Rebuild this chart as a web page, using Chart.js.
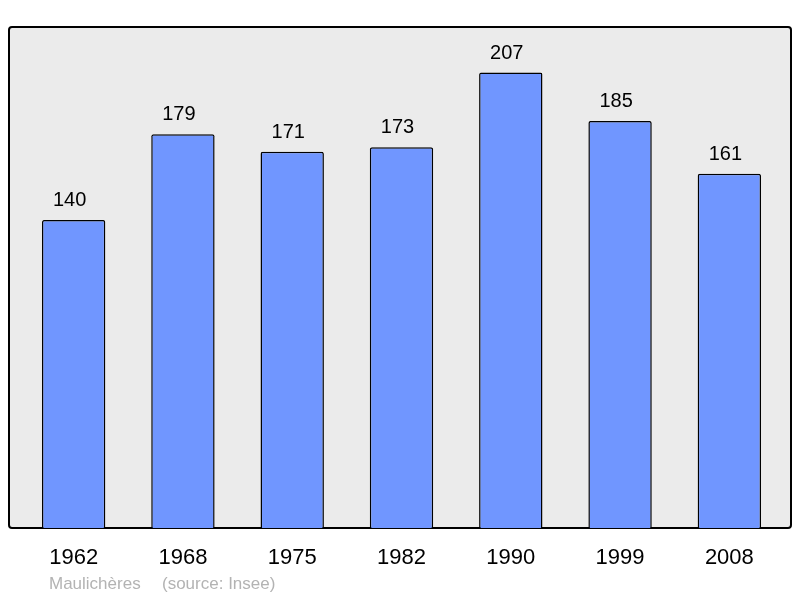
<!DOCTYPE html>
<html>
<head>
<meta charset="utf-8">
<script src="https://cdn.jsdelivr.net/npm/chart.js@4"></script>
<style>
  html, body { margin: 0; padding: 0; background: #fff; }
  #wrap { width: 800px; height: 598px; }
</style>
</head>
<body>
<div id="wrap"><canvas id="popChart" width="800" height="598"></canvas></div>
<script>
const years = ['1962', '1968', '1975', '1982', '1990', '1999', '2008'];
const population = [140, 179, 171, 173, 207, 185, 161];
const placeName = 'Maulichères';
const sourceNote = '(source: Insee)';

// gray framed plot background, value labels and footer
const frame = {
  id: 'frame',
  beforeDraw(chart) {
    const { ctx, chartArea: a } = chart;
    const x = a.left - 10, y = a.top, w = (a.right + 7) - x, h = a.bottom - a.top;
    ctx.save();
    ctx.beginPath();
    ctx.roundRect(x, y, w, h, 3);
    ctx.fillStyle = '#ebebeb';
    ctx.fill();
    ctx.lineWidth = 2;
    ctx.strokeStyle = '#000';
    ctx.stroke();
    ctx.restore();
  },
  afterDraw(chart) {
    const { ctx } = chart;
    ctx.save();
    ctx.font = '20px "Liberation Sans", Arial, sans-serif';
    ctx.fillStyle = '#000';
    ctx.textAlign = 'center';
    ctx.textBaseline = 'alphabetic';
    chart.getDatasetMeta(0).data.forEach((bar, i) => {
      ctx.fillText(String(population[i]), bar.x - 4, bar.y - 14);
    });
    ctx.font = '17px "Liberation Sans", Arial, sans-serif';
    ctx.fillStyle = '#b3b3b3';
    ctx.textAlign = 'left';
    ctx.textBaseline = 'middle';
    ctx.fillText(placeName, 49, 584);
    ctx.fillText(sourceNote, 162, 584);
    ctx.restore();
  }
};

new Chart(document.getElementById('popChart'), {
  type: 'bar',
  data: {
    labels: years,
    datasets: [{
      data: population,
      backgroundColor: '#7096ff',
      borderColor: '#000',
      borderWidth: 1.5,
      borderRadius: 2,
      borderSkipped: 'bottom',
      categoryPercentage: 1,
      barPercentage: 0.58
    }]
  },
  options: {
    responsive: false,
    animation: false,
    layout: { padding: { left: 19, right: 16, top: 27, bottom: 0 } },
    plugins: { legend: { display: false }, tooltip: { enabled: false } },
    scales: {
      x: {
        grid: { display: false, drawTicks: false },
        border: { display: false },
        ticks: {
          color: '#000',
          font: { family: '"Liberation Sans", Arial, sans-serif', size: 22 },
          padding: 17,
          maxRotation: 0
        },
        afterFit(scale) { scale.height = 70; }
      },
      y: {
        display: false,
        min: 0,
        max: 227.7
      }
    }
  },
  plugins: [frame]
});
</script>
</body>
</html>
